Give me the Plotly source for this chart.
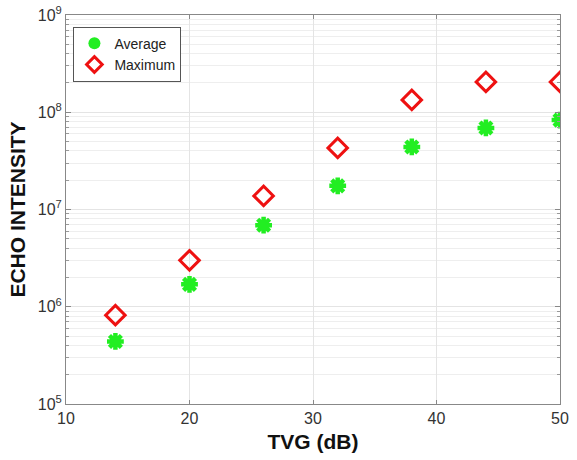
import plotly.graph_objects as go

tvg = [14, 20, 26, 32, 38, 44, 50]
average = [4.4e5, 1.7e6, 6.9e6, 1.75e7, 4.4e7, 6.9e7, 8.3e7]
maximum = [8.2e5, 3.0e6, 1.38e7, 4.3e7, 1.34e8, 2.05e8, 2.05e8]
x_ticks = [10, 20, 30, 40, 50]
y_exps = [5, 6, 7, 8, 9]

fig = go.Figure()
fig.add_trace(go.Scatter(
    x=tvg, y=average, mode="markers", name="Average", showlegend=False,
    marker=dict(symbol="asterisk-open", size=14, color="#22ee22",
                line=dict(color="#22ee22", width=4.5)),
))
fig.add_trace(go.Scatter(
    x=tvg, y=maximum, mode="markers", name="Maximum", showlegend=False,
    marker=dict(symbol="diamond-open", size=15, color="#ee1111",
                line=dict(color="#ee1111", width=3)),
))
# legend entries
fig.add_trace(go.Scatter(
    x=[None], y=[None], mode="markers", name="Average",
    marker=dict(symbol="circle", size=12, color="#22ee22"),
))
fig.add_trace(go.Scatter(
    x=[None], y=[None], mode="markers", name="Maximum",
    marker=dict(symbol="diamond-open", size=12, color="#ee1111",
                line=dict(color="#ee1111", width=3)),
))

minor_vals = [m * 10 ** e for e in y_exps[:-1] for m in range(2, 10)]

fig.update_layout(
    width=577, height=460,
    margin=dict(l=66, r=17, t=15, b=56, autoexpand=False),
    paper_bgcolor="white", plot_bgcolor="white",
    font=dict(family="Arial, Liberation Sans, sans-serif", color="#333333", size=16),
    legend=dict(x=0.015, y=0.97, xanchor="left", yanchor="top",
                bgcolor="white", bordercolor="#555555", borderwidth=1,
                font=dict(size=14, color="#222222"), tracegroupgap=0),
    xaxis=dict(
        range=[10, 50], tickvals=x_ticks, ticktext=[str(v) for v in x_ticks],
        showgrid=True, gridcolor="#e4e4e4", gridwidth=1,
        showline=True, linecolor="#888888", linewidth=1, mirror="ticks",
        ticks="inside", ticklen=4, tickcolor="#888888",
        zeroline=False, automargin=False,
        title=dict(text="<b>TVG (dB)</b>", font=dict(size=21, color="#111111"), standoff=8),
    ),
    yaxis=dict(
        type="log", range=[5, 9],
        tickvals=[10 ** e for e in y_exps],
        ticktext=[f"10<sup>{e}</sup>" for e in y_exps],
        showgrid=True, gridcolor="#e4e4e4", gridwidth=1,
        showline=True, linecolor="#888888", linewidth=1, mirror="ticks",
        ticks="inside", ticklen=5, tickcolor="#888888",
        minor=dict(tickmode="array", tickvals=minor_vals, ticks="inside",
                   ticklen=3, tickcolor="#999999", showgrid=True,
                   gridcolor="#eeeeee", gridwidth=1),
        zeroline=False, automargin=False,
        title=dict(text="<b>ECHO INTENSITY</b>", font=dict(size=21, color="#111111"), standoff=6),
    ),
)

fig.write_html("out.html", config={"displayModeBar": False},
               post_script="document.body.style.margin='0';")
